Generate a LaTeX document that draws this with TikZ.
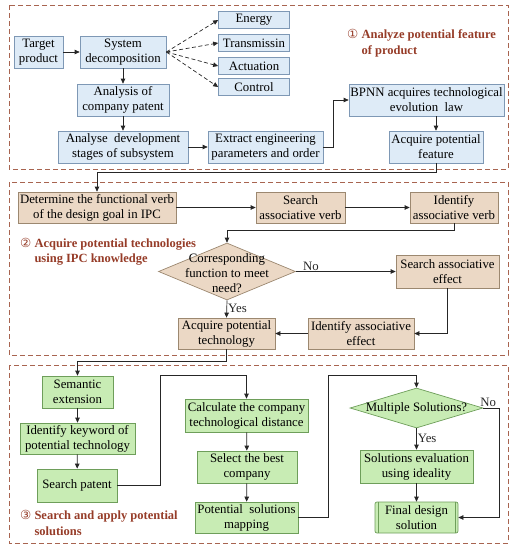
\documentclass[tikz,border=0pt]{standalone}
\usepackage{fontspec}
\setmainfont{Liberation Serif}
\newfontfamily\symfont{DejaVu Sans}
\usetikzlibrary{arrows.meta,shapes.geometric}
\definecolor{bluefill}{RGB}{222,235,247}
\definecolor{blueline}{RGB}{126,152,181}
\definecolor{tanfill}{RGB}{235,216,197}
\definecolor{tanline}{RGB}{156,136,112}
\definecolor{greenfill}{RGB}{200,236,180}
\definecolor{greenline}{RGB}{110,158,90}
\definecolor{framecol}{RGB}{168,100,80}
\definecolor{labelcol}{RGB}{150,60,40}
\newcommand{\stepnum}[1]{{\symfont\mdseries #1}}
\tikzset{
  box/.style={draw, line width=0.7pt, align=center, inner sep=1pt,
    font=\fontsize{12.8}{15}\selectfont},
  bluebox/.style={box, fill=bluefill, draw=blueline},
  tanbox/.style={box, fill=tanfill, draw=tanline},
  greenbox/.style={box, fill=greenfill, draw=greenline},
  frame/.style={draw=framecol, line width=0.9pt, dash pattern=on 5pt off 3pt},
  steplabel/.style={anchor=west, align=left, text=labelcol, inner sep=0pt,
    font=\fontsize{12.5}{15.5}\selectfont\bfseries},
  flow/.style={-{Triangle[length=5pt,width=4.5pt]}, line width=0.7pt, black!85},
  tag/.style={font=\fontsize{12.8}{15}\selectfont, inner sep=1pt}
}
\begin{document}
\begin{tikzpicture}[x=1pt,y=-1pt]
\useasboundingbox (0,0) rectangle (516,550);
% stage frames
\draw[frame] (9,5) rectangle (508,169);
\draw[frame] (9,182) rectangle (508,355);
\draw[frame] (9,365) rectangle (508,543);

% stage 1: analyze potential feature of product
\node[bluebox, minimum width=49, minimum height=32] (tp) at (38.5,52) {Target\\product};
\node[bluebox, minimum width=86, minimum height=32] (sd) at (123,52) {System\\decomposition};
\foreach \y/\nm/\txt in {20/en/Energy, 43/tr/Transmissin, 66/ac/Actuation, 87/co/Control}
  \node[bluebox, minimum width=71, minimum height=17] (\nm) at (254,\y) {\txt};
\node[bluebox, minimum width=92, minimum height=32] (ap) at (123,100) {Analysis of\\company patent};
\node[bluebox, minimum width=130, minimum height=32] (ad) at (123,147) {Analyse\ \ development\\stages of subsystem};
\node[bluebox, minimum width=115, minimum height=32] (ex) at (265.5,147) {Extract engineering\\parameters and order};
\node[bluebox, minimum width=155, minimum height=32] (bp) at (426.5,100) {BPNN acquires technological\\evolution\ \ law};
\node[bluebox, minimum width=94, minimum height=32] (af) at (436,147) {Acquire potential\\feature};
\node[steplabel] (l1) at (347,43) {\stepnum{①} Analyze potential feature\\\hphantom{\stepnum{①} }of product};

\draw[flow] (tp) -- (sd);
\foreach \nm in {en,tr,ac,co}
  \draw[flow, dash pattern=on 4pt off 2.5pt] (sd.east) -- (\nm.west);
\draw[flow] (sd) -- (ap);
\draw[flow] (ap) -- (ad);
\draw[flow] (ad) -- (ex);
\draw[flow] (ex.east) -- ++(10,0) |- (bp.west);
\draw[flow] (af.north |- bp.south) -- (af.north);

% stage 2: acquire potential technologies using IPC knowledge
\node[tanbox, minimum width=158, minimum height=31] (dv) at (97,207.5) {Determine the functional verb\\of the design goal in IPC};
\node[tanbox, minimum width=89, minimum height=31] (sv) at (300.5,207.5) {Search\\associative verb};
\node[tanbox, minimum width=88, minimum height=31] (iv) at (454,207.5) {Identify\\associative verb};
\node[tanbox, diamond, minimum width=137, minimum height=57, inner sep=0pt] (dm) at (227,271.5) {};
\node[tag, align=center] (dmt) at (227,273) {Corresponding\\function to meet\\need?};
\node[tanbox, minimum width=103, minimum height=33] (se) at (447.5,271.5) {Search associative\\effect};
\node[tanbox, minimum width=106, minimum height=31] (ie) at (361,333.5) {Identify associative\\effect};
\node[tanbox, minimum width=97, minimum height=31] (at) at (226.5,333.5) {Acquire potential\\technology};
\node[steplabel] (l2) at (20,252) {\stepnum{②} Acquire potential technologies\\\hphantom{\stepnum{②} }using IPC knowledge};

\draw[flow] (af.south) -- ++(0,9) -| (dv.north);
\draw[flow] (dv) -- (sv);
\draw[flow] (sv) -- (iv);
\draw[flow] (iv.south) -- ++(0,7) -| (dm.north);
\draw[flow] (dm.east) -- node[tag, pos=0.06, anchor=south west] (no1) {No} (se.west);
\draw[flow] (se.south) |- (ie.east);
\draw[flow] (ie) -- (at);
\draw[flow] (dm.south) -- node[tag, pos=0.45, anchor=west] (yes1) {Yes} (at.north);

% stage 3: search and apply potential solutions
\node[greenbox, minimum width=71, minimum height=32] (sx) at (77.5,392) {Semantic\\extension};
\node[greenbox, minimum width=115, minimum height=31] (ik) at (77.5,438.5) {Identify keyword of\\potential technology};
\node[greenbox, minimum width=80, minimum height=33] (sp) at (77,485.5) {Search patent};
\node[greenbox, minimum width=123, minimum height=33] (cd) at (246.5,415.5) {Calculate the company\\technological distance};
\node[greenbox, minimum width=100, minimum height=32] (sb) at (247,467) {Select the best\\company};
\node[greenbox, minimum width=103, minimum height=31] (pm) at (246.5,517.5) {Potential\ \ solutions\\mapping};
\node[greenbox, diamond, minimum width=133, minimum height=40, inner sep=0pt] (ms) at (416.5,408) {};
\node[tag] (mst) at (416.5,408) {Multiple Solutions?};
\node[greenbox, minimum width=113, minimum height=33] (ev) at (416.5,466.5) {Solutions evaluation\\using ideality};
\node[greenbox, minimum width=83, minimum height=31, rounded corners=2pt,
  path picture={\draw[greenline] ([xshift=3pt]path picture bounding box.north west) -- ([xshift=3pt]path picture bounding box.south west);
    \draw[greenline] ([xshift=-3pt]path picture bounding box.north east) -- ([xshift=-3pt]path picture bounding box.south east);}]
  (fd) at (416.5,517.5) {Final design\\solution};
\node[steplabel] (l3) at (20,523) {\stepnum{③} Search and apply potential\\\hphantom{\stepnum{③} }solutions};

\draw[flow] (at.south) -- ++(0,12) -| (sx.north);
\draw[flow] (sx) -- (ik);
\draw[flow] (ik) -- (sp);
\draw[flow] (sp.east) -- ++(43,0) -- ++(0,-110.5) -| (cd.north);
\draw[flow] (cd) -- (sb);
\draw[flow] (sb) -- (pm);
\draw[flow] (pm.east) -- ++(30,0) -- ++(0,-142.5) -| (ms.north);
\draw[flow] (ms.south) -- node[tag, pos=0.45, anchor=west] (yes2) {Yes} (ev.north);
\draw[flow] (ev) -- (fd);
\draw[flow] (ms.east) -- node[tag, pos=0.3, anchor=south] (no2) {No} ++(16,0) |- (fd.east);
\end{tikzpicture}
\end{document}
